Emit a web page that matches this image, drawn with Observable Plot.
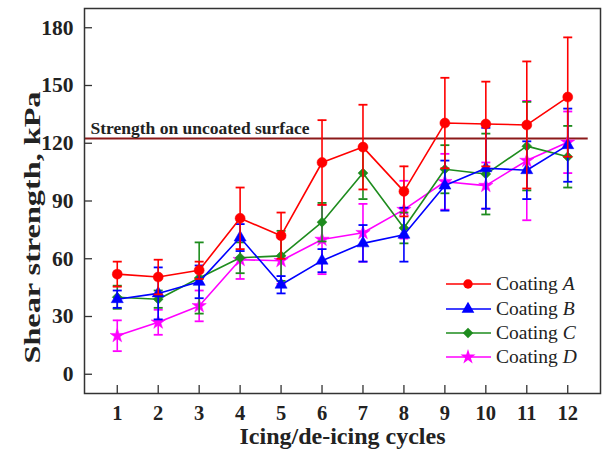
<!DOCTYPE html>
<html>
<head>
<meta charset="utf-8">
<script src="https://cdn.jsdelivr.net/npm/d3@7"></script>
<script src="https://cdn.jsdelivr.net/npm/@observablehq/plot@0.6"></script>
<style>
  body { margin: 0; background: #fff; }
  #wrap { position: relative; width: 604px; height: 453px; }
  #legend { position: absolute; left: 440px; top: 272px; font-family: "Liberation Serif", "Times New Roman", serif; font-size: 19.5px; color: #222; }
  #legend .row { display: flex; align-items: center; height: 24.4px; }
  #legend svg { display: block; }
</style>
</head>
<body>
<div id="wrap"></div>
<script>
const cycles = [1, 2, 3, 4, 5, 6, 7, 8, 9, 10, 11, 12];
const seriesNames = ["A", "B", "C", "D"];
const seriesColors = ["#ff0000", "#0000ff", "#1e8c1e", "#ff00ff"];
const seriesSymbols = ["circle", "triangle", "diamond2", "star"];

const coatingA = [52, 50.5, 54, 81, 72, 110, 118, 95, 130.5, 130, 129.5, 144];
const errA     = [6.5, 9, 4.5, 16, 12, 22, 22, 13, 23.5, 22, 33, 31];
const coatingB = [39, 42, 48, 71, 46.5, 59, 68, 72.5, 98, 107, 106, 119];
const errB     = [4.5, 13.5, 8.5, 7, 4.5, 6, 9.5, 14, 13, 21, 15, 19];
const coatingC = [40, 39, 50, 60.5, 61.5, 79, 104.5, 76, 106.5, 104, 118.5, 113];
const errC     = [6, 4.5, 18.5, 8, 13, 10, 13.5, 8, 12.5, 21, 23, 16];
const coatingD = [20, 27, 35.5, 59.5, 59, 70, 73.5, 85.5, 100, 98, 111, 120.5];
const errD     = [8, 6.5, 8, 10, 12, 18, 15, 15, 14.5, 12, 31, 16];

const uncoatedStrength = 122.5;
const uncoatedLabel = "Strength on uncoated surface";
const yTicks = [0, 30, 60, 90, 120, 150, 180];
const xTicks = cycles;
const xTitle = "Icing/de-icing cycles";
const yTitle = "Shear strength, kPa";

const values = [coatingA, coatingB, coatingC, coatingD];
const errors = [errA, errB, errC, errD];

const capSymbol = {
  draw(context) {
    context.moveTo(-4.5, 0);
    context.lineTo(4.5, 0);
  }
};

const seriesMarks = [];
const drawOrder = [3, 2, 1, 0];
for (const i of drawOrder) {
  const rows = cycles.map((c, j) => ({cycle: c, value: values[i][j], err: errors[i][j]}));
  const color = seriesColors[i];
  seriesMarks.push(
    Plot.ruleX(rows, {x: "cycle", y1: d => d.value - d.err, y2: d => d.value + d.err, stroke: color, strokeWidth: 1.6}),
    Plot.dot(rows, {x: "cycle", y: d => d.value + d.err, symbol: capSymbol, stroke: color, fill: "none", strokeWidth: 1.8}),
    Plot.dot(rows, {x: "cycle", y: d => d.value - d.err, symbol: capSymbol, stroke: color, fill: "none", strokeWidth: 1.8}),
    Plot.line(rows, {x: "cycle", y: "value", stroke: color, strokeWidth: 1.6}),
    Plot.dot(rows, {x: "cycle", y: "value", symbol: seriesSymbols[i], fill: color, stroke: color, r: i === 0 ? 5 : 4.5, strokeWidth: 0.5})
  );
}

const serif = "'Liberation Serif', 'Times New Roman', serif";

const chart = Plot.plot({
  width: 604,
  height: 453,
  marginLeft: 84,
  marginRight: 4,
  marginTop: 8,
  marginBottom: 60,
  style: {fontFamily: serif, background: "#fff"},
  x: {domain: [0.2, 12.8]},
  y: {domain: [-10, 190]},
  marks: [
    Plot.ruleY([uncoatedStrength], {x1: 0.2, x2: 12.5, stroke: "#8b1a1a", strokeWidth: 2}),
    Plot.text([uncoatedLabel], {x: 0.2, y: uncoatedStrength, text: d => d, textAnchor: "start", lineAnchor: "bottom", dx: 6, dy: -4, fontSize: 17.5, fontWeight: "bold", fill: "#222"}),
    ...seriesMarks,
    Plot.frame({stroke: "#333", strokeWidth: 1.5}),
    Plot.axisY({ticks: yTicks, tickSize: 8, insetLeft: 8, tickFormat: () => "", label: null, stroke: "#333", strokeWidth: 1.3}),
    Plot.axisY({ticks: yTicks, tickSize: 0, tickPadding: 11, label: null, fontSize: 21.5, fontWeight: "bold", fill: "#222"}),
    Plot.axisX({ticks: xTicks, tickSize: 8, insetBottom: 8, tickFormat: () => "", label: null, stroke: "#333", strokeWidth: 1.3}),
    Plot.axisX({ticks: xTicks, tickSize: 0, tickPadding: 12, label: null, fontSize: 20.5, fontWeight: "bold", fill: "#222"}),
    Plot.text([xTitle], {frameAnchor: "bottom", text: d => d, dy: 50, fontSize: 24, fontWeight: "bold", fill: "#222"}),
    Plot.text([yTitle], {frameAnchor: "left", text: d => d, fontSize: 24, fontWeight: "bold", fill: "#222", textAnchor: "middle"})
  ]
});

d3.select(chart).selectAll("text").filter(function () { return this.textContent === yTitle; })
  .attr("x", null).attr("y", null).attr("dx", null).attr("dy", "0.32em")
  .attr("transform", "translate(32,227.5) rotate(-90)")
  .attr("text-anchor", "middle")
  .attr("textLength", 272).attr("lengthAdjust", "spacingAndGlyphs");
d3.select(chart).selectAll("g").filter(function () {
  const t = this.querySelector && this.querySelector(":scope > text");
  return t && t.textContent === yTitle;
}).attr("transform", null);

const wrap = document.getElementById("wrap");
wrap.appendChild(chart);

const legend = document.createElement("div");
legend.id = "legend";
wrap.appendChild(legend);
seriesNames.forEach((name, i) => {
  const row = document.createElement("div");
  row.className = "row";
  const svg = d3.create("svg").attr("width", 54).attr("height", 20);
  svg.append("line").attr("x1", 6).attr("x2", 51).attr("y1", 10).attr("y2", 10)
    .attr("stroke", seriesColors[i]).attr("stroke-width", 1.6);
  const symType = {circle: d3.symbolCircle, triangle: d3.symbolTriangle, diamond2: d3.symbolDiamond2, star: d3.symbolStar}[seriesSymbols[i]];
  svg.append("path").attr("d", d3.symbol(symType, 70)()).attr("transform", "translate(28,10)")
    .attr("fill", seriesColors[i]);
  row.appendChild(svg.node());
  const label = document.createElement("span");
  label.innerHTML = "Coating <i>" + name + "</i>";
  label.style.marginLeft = "2px";
  row.appendChild(label);
  legend.appendChild(row);
});
</script>
</body>
</html>
